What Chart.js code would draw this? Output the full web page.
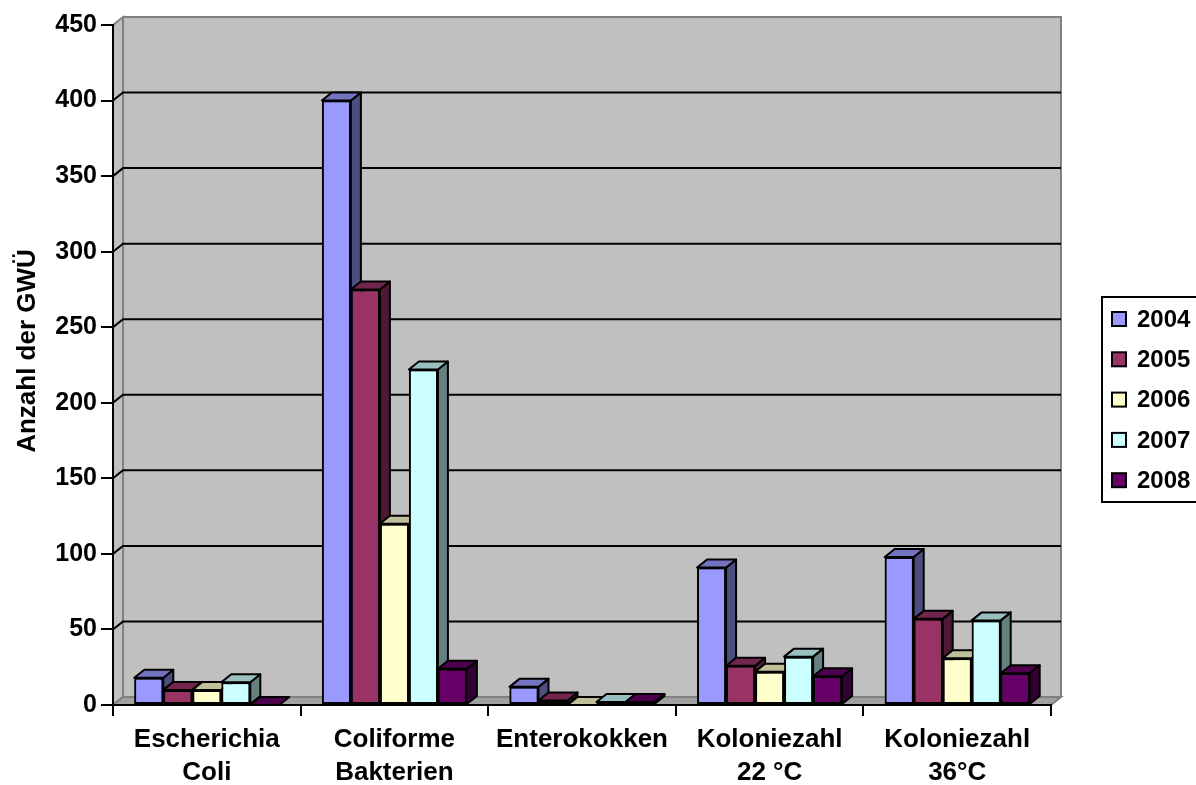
<!DOCTYPE html>
<html>
<head>
<meta charset="utf-8">
<title>Anzahl der GWÜ</title>
<script src="https://cdn.jsdelivr.net/npm/chart.js@4.4.1/dist/chart.umd.min.js"></script>
<style>
  html, body { margin: 0; padding: 0; background: #fff; }
  #wrap { width: 1196px; height: 785px; }
</style>
</head>
<body>
<div id="wrap"><canvas id="gwu"></canvas></div>
<script>
// Kategorien (mehrzeilige Beschriftungen als Arrays)
const kategorien = [
  ['Escherichia', 'Coli'],
  ['Coliforme', 'Bakterien'],
  'Enterokokken',
  ['Koloniezahl', '22 °C'],
  ['Koloniezahl', '36°C']
];
const jahre = ['2004', '2005', '2006', '2007', '2008'];

const werte2004 = [18, 400, 12, 91, 98];
const werte2005 = [10, 275, 3, 26, 57];
const werte2006 = [10, 120, 0, 22, 31];
const werte2007 = [15, 222, 2, 32, 56];
const werte2008 = [0, 24, 2, 19, 21];

const farben = ['#9999ff', '#993366', '#ffffcc', '#ccffff', '#660066'];

const yMin = 0;
const yMax = 450;
const ySchritt = 50;

// Tiefe der 3D-Darstellung
const DX = 10;
const DY = -8;
const SCHRIFT = '"Liberation Sans", Arial, sans-serif';

function abdunkeln(hex, f) {
  const n = parseInt(hex.slice(1), 16);
  const r = Math.round(((n >> 16) & 255) * f);
  const g = Math.round(((n >> 8) & 255) * f);
  const b = Math.round((n & 255) * f);
  return `rgb(${r},${g},${b})`;
}

function vieleck(ctx, punkte, fuellung) {
  ctx.beginPath();
  ctx.moveTo(punkte[0][0], punkte[0][1]);
  for (let k = 1; k < punkte.length; k++) ctx.lineTo(punkte[k][0], punkte[k][1]);
  ctx.closePath();
  ctx.fillStyle = fuellung;
  ctx.fill();
  ctx.stroke();
}

const raum3d = {
  id: 'raum3d',
  beforeDraw(chart) {
    const { ctx, chartArea: a, scales: { y } } = chart;
    ctx.save();
    ctx.lineWidth = 2;
    ctx.strokeStyle = '#808080';
    // Rückwand
    ctx.fillStyle = '#c0c0c0';
    ctx.fillRect(a.left + DX, a.top + DY, a.right - a.left, a.bottom - a.top);
    // linke Seitenwand
    vieleck(ctx, [[a.left, a.top], [a.left + DX, a.top + DY], [a.left + DX, a.bottom + DY], [a.left, a.bottom]], '#c0c0c0');
    // Boden
    vieleck(ctx, [[a.left, a.bottom], [a.left + DX, a.bottom + DY], [a.right + DX, a.bottom + DY], [a.right, a.bottom]], '#a0a0a0');
    // Kanten der Rückwand
    ctx.beginPath();
    ctx.moveTo(a.left + DX, a.top + DY);
    ctx.lineTo(a.right + DX, a.top + DY);
    ctx.lineTo(a.right + DX, a.bottom + DY);
    ctx.stroke();
    // Gitterlinien
    ctx.strokeStyle = '#000';
    y.ticks.forEach(t => {
      if (t.value <= yMin || t.value >= yMax) return;
      const py = y.getPixelForValue(t.value);
      ctx.beginPath();
      ctx.moveTo(a.left, py);
      ctx.lineTo(a.left + DX, py + DY);
      ctx.lineTo(a.right + DX, py + DY);
      ctx.stroke();
    });
    ctx.restore();
  },
  // Säulen von links nach rechts neu zeichnen, jeweils mit Seite und Deckel
  afterDatasetsDraw(chart) {
    const { ctx } = chart;
    ctx.save();
    chart.data.datasets.forEach((ds, i) => {
      const meta = chart.getDatasetMeta(i);
      meta.data.forEach(bar => {
        bar.draw(ctx, chart.chartArea);
        const { x, y, base, width } = bar.getProps(['x', 'y', 'base', 'width'], true);
        const l = x - width / 2;
        const r = x + width / 2;
        ctx.lineWidth = 2;
        ctx.strokeStyle = '#000';
        ctx.lineJoin = 'round';
        if (base - y > 0.5) {
          vieleck(ctx, [[r, y], [r + DX, y + DY], [r + DX, base + DY], [r, base]], abdunkeln(ds.backgroundColor, 0.5));
        }
        vieleck(ctx, [[l, y], [l + DX, y + DY], [r + DX, y + DY], [r, y]], abdunkeln(ds.backgroundColor, 0.75));
      });
    });
    ctx.restore();
  },
  afterDraw(chart) {
    const { ctx } = chart;
    ctx.save();
    // Achsentitel
    ctx.fillStyle = '#000';
    ctx.font = 'bold 26px ' + SCHRIFT;
    ctx.textAlign = 'center';
    ctx.textBaseline = 'middle';
    ctx.translate(28, 351);
    ctx.rotate(-Math.PI / 2);
    ctx.fillText('Anzahl der GWÜ', 0, 0);
    ctx.restore();

    // Legende
    ctx.save();
    ctx.lineWidth = 2;
    ctx.strokeStyle = '#000';
    ctx.fillStyle = '#fff';
    ctx.fillRect(1102, 297, 100, 205);
    ctx.strokeRect(1102, 297, 100, 205);
    ctx.font = 'bold 24px ' + SCHRIFT;
    ctx.textBaseline = 'middle';
    ctx.textAlign = 'left';
    chart.data.datasets.forEach((ds, i) => {
      const cy = 319 + i * 40.3;
      ctx.fillStyle = ds.backgroundColor;
      ctx.fillRect(1112, cy - 7, 14, 14);
      ctx.strokeRect(1112, cy - 7, 14, 14);
      ctx.fillStyle = '#000';
      ctx.fillText(ds.label, 1137, cy + 1);
    });
    ctx.restore();
  }
};

const reihen = [werte2004, werte2005, werte2006, werte2007, werte2008];

new Chart(document.getElementById('gwu'), {
  type: 'bar',
  data: {
    labels: kategorien,
    datasets: reihen.map((werte, i) => ({
      label: jahre[i],
      data: werte,
      backgroundColor: farben[i],
      borderColor: '#000',
      borderWidth: 2,
      borderSkipped: false,
      categoryPercentage: 0.773,
      barPercentage: 1
    }))
  },
  options: {
    responsive: true,
    maintainAspectRatio: false,
    animation: false,
    layout: { padding: { top: 25, right: 145, left: 0, bottom: 0 } },
    plugins: {
      legend: { display: false },
      tooltip: { enabled: false }
    },
    scales: {
      x: {
        afterFit: s => { s.height = 80; },
        grid: {
          offset: true,
          drawOnChartArea: false,
          drawTicks: true,
          tickLength: 11,
          color: '#000',
          lineWidth: 2
        },
        border: { display: true, color: '#000', width: 2 },
        ticks: {
          color: '#000',
          autoSkip: false,
          maxRotation: 0,
          padding: 7,
          font: { family: SCHRIFT, size: 26, weight: 'bold', lineHeight: 1.27 }
        }
      },
      y: {
        min: yMin,
        max: yMax,
        afterFit: s => { s.width = 113; },
        grid: {
          drawOnChartArea: false,
          drawTicks: true,
          tickLength: 12,
          color: '#000',
          lineWidth: 2
        },
        border: { display: true, color: '#000', width: 2 },
        ticks: {
          stepSize: ySchritt,
          color: '#000',
          padding: 4,
          font: { family: SCHRIFT, size: 25, weight: 'bold' }
        }
      }
    }
  },
  plugins: [raum3d]
});
</script>
</body>
</html>
